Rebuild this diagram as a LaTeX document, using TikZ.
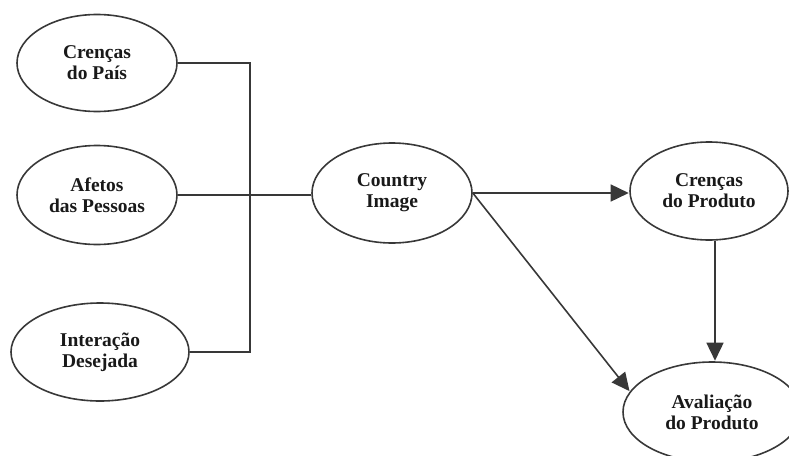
\documentclass[tikz,border=0pt]{standalone}
\usepackage{fontspec}
\setmainfont{Liberation Serif}
\usetikzlibrary{shapes.geometric,arrows.meta}
\tikzset{
  ell/.style={ellipse, draw=black!78, line width=1.6pt, inner sep=0pt,
    align=center, font=\fontsize{19.5}{21}\selectfont\bfseries, text=black!90},
  conn/.style={draw=black!78, line width=1.6pt},
  arr/.style={conn, -{Triangle[length=18pt,width=17pt]}, shorten >=0.5pt}
}
\begin{document}
\begin{tikzpicture}[x=1pt,y=-1pt]
\useasboundingbox (0,0) rectangle (789,455);
\clip (0,0) rectangle (789,455);
\node[ell, minimum width=160pt, minimum height=97pt] (c1) at (97,63) {Crenças\\do País};
\node[ell, minimum width=160pt, minimum height=99pt] (c2) at (97,195) {Afetos\\das Pessoas};
\node[ell, minimum width=178pt, minimum height=98pt] (c3) at (100,352) {Interação\\Desejada};
\node[ell, minimum width=160pt, minimum height=100pt] (ci) at (392,193) {Country\\Image};
\node[ell, minimum width=158pt, minimum height=98pt] (cp) at (709,191) {Crenças\\do Produto};
\node[ell, minimum width=178pt, minimum height=100pt] (av) at (712,412) {Avaliação\\do Produto};
\coordinate (j) at (250,194);
\draw[conn] (c1.east) -| (j);
\draw[conn] (c3.east) -| (j);
\draw[conn] (c2.east) -- (c2.east -| ci.west);
\draw[arr] (ci.east) -- (ci.east -| cp.west);
\draw[arr] (ci.east) -- (av.166);
\draw[arr] ([xshift=6pt]cp.south) -- ([xshift=6pt]cp.south |- av.north);
\end{tikzpicture}
\end{document}
